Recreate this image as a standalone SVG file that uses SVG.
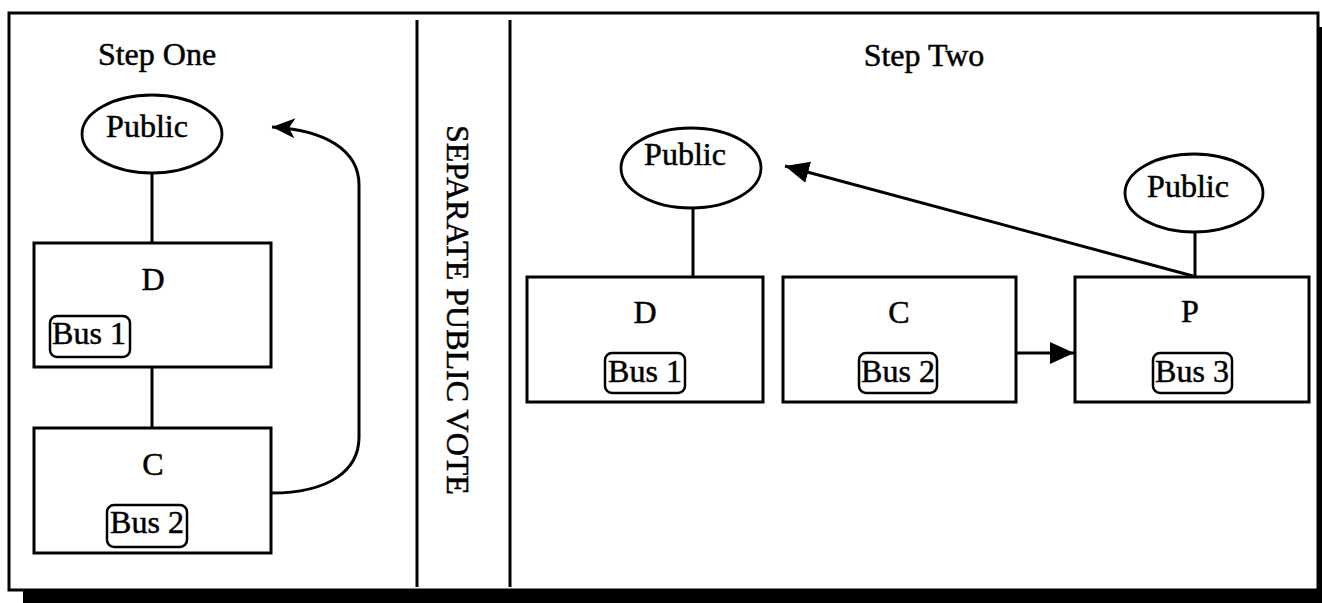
<svg xmlns="http://www.w3.org/2000/svg" width="1322" height="603" viewBox="0 0 1322 603">
  <style>
    .txt { font-family: "Liberation Serif", "Times New Roman", serif; font-size: 32px; fill: #000; stroke: #000; stroke-width: 0.5; }
    .mid { text-anchor: middle; }
    .box { fill: #fff; stroke: #000; stroke-width: 3; }
    .tag { fill: #fff; stroke: #000; stroke-width: 2.5; }
    .oval { fill: #fff; stroke: #000; stroke-width: 2.8; }
    .line { fill: none; stroke: #000; stroke-width: 3; }
    .rule { stroke: #000; stroke-width: 3; }
  </style>
  <defs>
    <marker id="tri" viewBox="0 0 24 24" refX="24" refY="12" markerWidth="24" markerHeight="24" markerUnits="userSpaceOnUse" orient="auto">
      <path d="M0,1 L24,12 L0,23 Z" fill="#000"/>
    </marker>
    <marker id="barb" viewBox="0 0 24 24" refX="23" refY="12" markerWidth="24" markerHeight="24" markerUnits="userSpaceOnUse" orient="auto">
      <path d="M0,2 L23,12 L0,22 L6,12 Z" fill="#000"/>
    </marker>
  </defs>

  <rect width="1322" height="603" fill="#fff"/>

  <!-- drop shadow and frame -->
  <rect x="23" y="591" width="1299" height="12" fill="#000"/>
  <rect x="1318" y="27" width="4" height="576" fill="#000"/>
  <rect x="9" y="13" width="1309" height="577" fill="none" stroke="#000" stroke-width="3"/>

  <!-- panel dividers -->
  <line class="rule" x1="417" y1="20" x2="417" y2="587"/>
  <line class="rule" x1="510" y1="20" x2="510" y2="587"/>

  <!-- headings -->
  <text class="txt mid" x="157" y="65">Step One</text>
  <text class="txt mid" x="924" y="66">Step Two</text>
  <text class="txt" transform="translate(447,125) rotate(90)">SEPARATE PUBLIC VOTE</text>

  <!-- connectors -->
  <g id="connectors">
    <line class="line" x1="152" y1="174" x2="152" y2="243"/>
    <line class="line" x1="152" y1="367" x2="152" y2="428"/>
    <path class="line" d="M271,493 C330,493 359,470 359,437 L359,185 C359,150 325,130 272,127" marker-end="url(#barb)"/>
    <line class="line" x1="693" y1="209" x2="693" y2="277"/>
    <line class="line" x1="1195" y1="232" x2="1195" y2="277"/>
    <line class="line" x1="1193" y1="276" x2="785" y2="166" marker-end="url(#tri)"/>
    <line class="line" x1="1016" y1="353" x2="1074" y2="353" marker-end="url(#tri)"/>
  </g>

  <!-- Step One nodes -->
  <g id="s1-public">
    <ellipse class="oval" cx="152" cy="134" rx="70" ry="39"/>
    <text class="txt mid" x="147" y="137">Public</text>
  </g>
  <g id="s1-d">
    <rect class="box" x="34" y="243" width="237" height="124"/>
    <text class="txt mid" x="153" y="290">D</text>
    <rect class="tag" x="50" y="316" width="80" height="41" rx="7"/>
    <text class="txt mid" x="89" y="344">Bus 1</text>
  </g>
  <g id="s1-c">
    <rect class="box" x="34" y="428" width="237" height="125"/>
    <text class="txt mid" x="153" y="475">C</text>
    <rect class="tag" x="107" y="505" width="80" height="42" rx="7"/>
    <text class="txt mid" x="147" y="533">Bus 2</text>
  </g>

  <!-- Step Two nodes -->
  <g id="s2-public-d">
    <ellipse class="oval" cx="691" cy="168" rx="70" ry="40"/>
    <text class="txt mid" x="685" y="165">Public</text>
  </g>
  <g id="s2-d">
    <rect class="box" x="527" y="277" width="236" height="125"/>
    <text class="txt mid" x="645" y="323">D</text>
    <rect class="tag" x="605" y="353" width="80" height="40" rx="7"/>
    <text class="txt mid" x="645" y="382">Bus 1</text>
  </g>
  <g id="s2-c">
    <rect class="box" x="783" y="277" width="233" height="125"/>
    <text class="txt mid" x="899" y="323">C</text>
    <rect class="tag" x="859" y="353" width="78" height="40" rx="7"/>
    <text class="txt mid" x="898" y="382">Bus 2</text>
  </g>
  <g id="s2-p">
    <rect class="box" x="1075" y="277" width="234" height="125"/>
    <text class="txt mid" x="1190" y="322">P</text>
    <rect class="tag" x="1153" y="353" width="79" height="40" rx="7"/>
    <text class="txt mid" x="1192" y="382">Bus 3</text>
  </g>
  <g id="s2-public-p">
    <ellipse class="oval" cx="1194" cy="193" rx="69" ry="39"/>
    <text class="txt mid" x="1188" y="197">Public</text>
  </g>
</svg>
